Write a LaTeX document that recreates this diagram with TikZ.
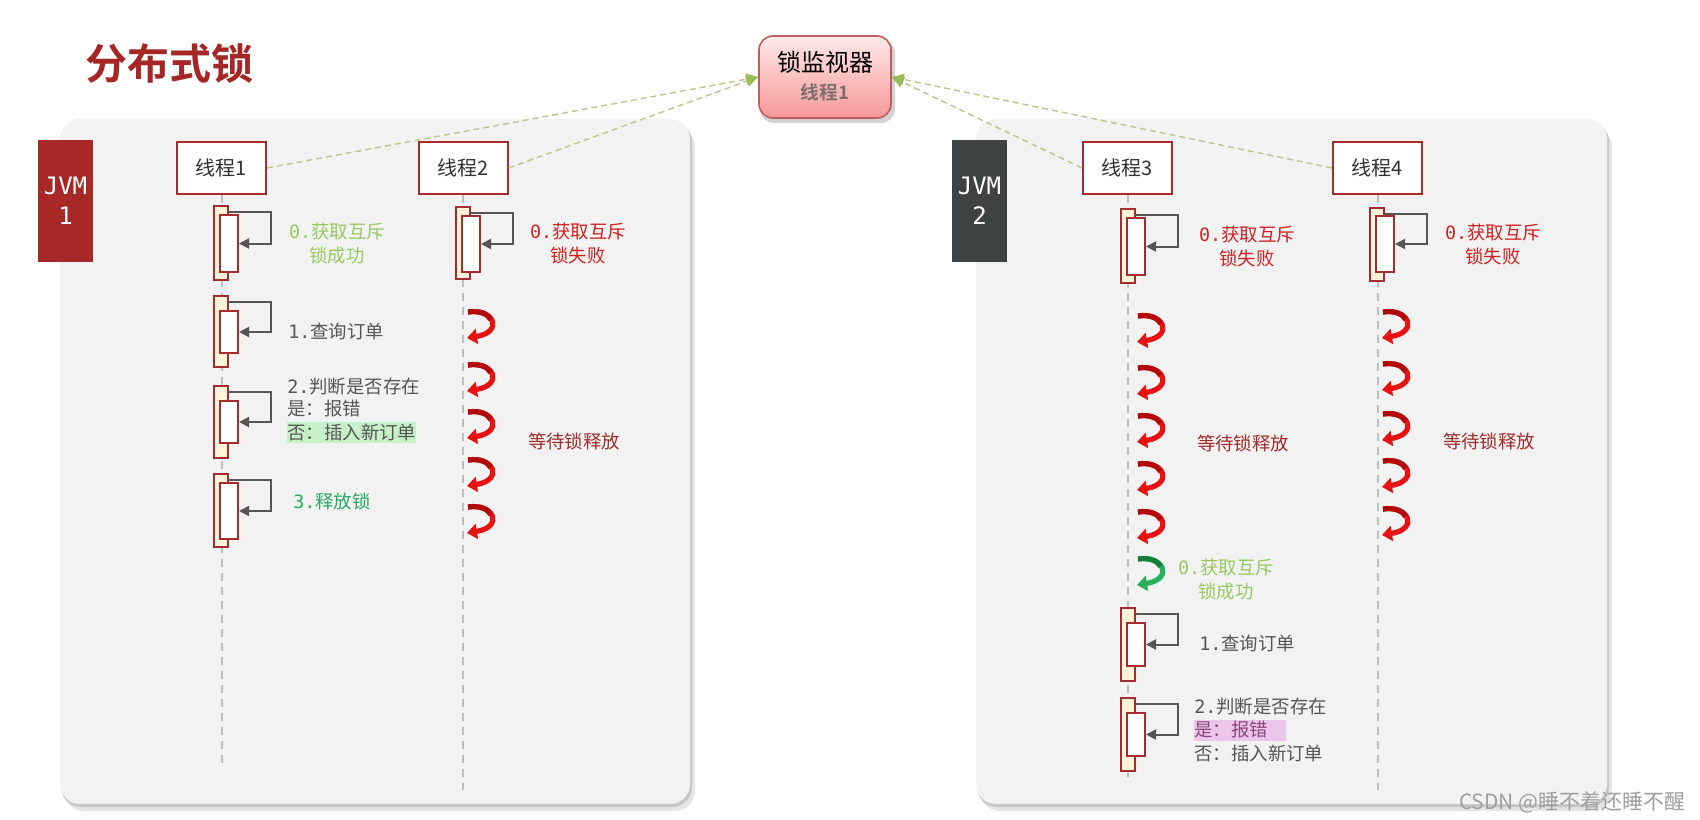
\documentclass[tikz,border=0pt]{standalone}
\usepackage{fontspec}
\setmainfont{Noto Sans CJK SC}[BoldFont={Noto Sans CJK SC Bold}]
\newfontfamily\mono{DejaVu Sans Mono}
\usetikzlibrary{arrows.meta}
\definecolor{titlered}{RGB}{166,38,38}
\definecolor{jvmred}{RGB}{168,40,40}
\definecolor{jvmgray}{RGB}{62,66,66}
\definecolor{panelbg}{RGB}{242,242,242}
\definecolor{boxred}{RGB}{165,45,45}
\definecolor{cream}{RGB}{255,243,217}
\definecolor{monborder}{RGB}{190,95,92}
\definecolor{montop}{RGB}{255,232,232}
\definecolor{monbot}{RGB}{246,152,152}
\definecolor{montext}{RGB}{125,110,110}
\definecolor{conncol}{RGB}{190,196,140}
\definecolor{arrgreen}{RGB}{155,187,89}
\definecolor{lifegray}{RGB}{190,190,190}
\definecolor{arrgray}{RGB}{85,85,85}
\definecolor{textdark}{RGB}{50,50,50}
\definecolor{okgreen}{RGB}{150,202,95}
\definecolor{failred}{RGB}{212,32,32}
\definecolor{waitred}{RGB}{160,45,45}
\definecolor{graytext}{RGB}{85,85,85}
\definecolor{relgreen}{RGB}{40,170,100}
\definecolor{hlgreen}{RGB}{200,240,200}
\definecolor{hlpink}{RGB}{234,198,232}
\definecolor{pinktext}{RGB}{140,70,130}
\definecolor{curlbright}{RGB}{232,18,18}
\definecolor{curldark}{RGB}{178,10,10}
\definecolor{curlgbright}{RGB}{40,175,90}
\definecolor{curlgdark}{RGB}{20,125,60}
\newcommand\actv[6]{%
  \node[outerbox, minimum height={(#4-#3)*0.5pt-1pt}] (#1o) at (#2,{(#3+#4)/2}) {};
  \node[innerbox, minimum height={(#6-#5)*0.5pt-1pt}] (#1i) at ({#2+8},{(#5+#6)/2}) {};
  \draw[selfarr] ([yshift=-3.5pt]#1o.north east) -- ++(42,0) |- (#1i.east);
}
\tikzset{
  thread/.style={draw=boxred, line width=1pt, fill=white, minimum width=44.5pt, minimum height=26pt, inner sep=0pt, text=textdark, font=\fontsize{10}{12}\selectfont},
  outerbox/.style={draw=boxred, line width=1pt, fill=cream, minimum width=7pt, inner sep=0pt},
  innerbox/.style={draw=boxred, line width=1pt, fill=white, minimum width=9pt, inner sep=0pt},
  selfarr/.style={draw=arrgray, line width=1pt, -{Triangle[length=5pt,width=5pt]}},
  lifeline/.style={draw=lifegray, line width=1pt, dash pattern=on 4pt off 3pt},
  conn/.style={draw=conncol, line width=0.7pt, dash pattern=on 3pt off 2pt, -{Triangle[length=6pt,width=5.5pt,color=arrgreen]}},
  lbl/.style={inner sep=0pt, align=center, font=\fontsize{9.2}{12}\selectfont},
  jvm/.style={minimum width=27.5pt, minimum height=61pt, inner sep=0pt, align=center, text=white, font=\fontsize{12}{15}\selectfont\mono},
  curlred/.pic={
    \draw[curlbright, line width=2.6pt, -{Triangle[length=5pt,width=7.5pt]}] (-12,-14) .. controls (14,-18) and (24,6) .. (-13,12);
    \draw[curldark, line width=2.6pt] (-12,-14) .. controls (-0.3,-15.8) and (8.16,-11.93) .. (10.55,-6.58);
  },
  curlgreen/.pic={
    \draw[curlgbright, line width=2.6pt, -{Triangle[length=5pt,width=7.5pt]}] (-12,-14) .. controls (14,-18) and (24,6) .. (-13,12);
    \draw[curlgdark, line width=2.6pt] (-12,-14) .. controls (-0.3,-15.8) and (8.16,-11.93) .. (10.55,-6.58);
  },
}
\begin{document}
\begin{tikzpicture}[x=0.5pt,y=-0.5pt]
\useasboundingbox (0,0) rectangle (1700,819);
\fill[white] (0,0) rectangle (1700,819);

% title
\node[anchor=west, inner sep=0pt, text=titlered, font=\fontsize{21}{24}\selectfont\bfseries] (title) at (85,64) {分布式锁};

% panels with shadows
\fill[gray!20, rounded corners=10pt] (64,127) rectangle (695,811);
\fill[gray!45, rounded corners=10pt] (61,122) rectangle (692,807);
\fill[panelbg, rounded corners=10pt] (60,119) rectangle (690,804);
\fill[gray!20, rounded corners=10pt] (980,127) rectangle (1612,811);
\fill[gray!45, rounded corners=10pt] (977,122) rectangle (1609,807);
\fill[panelbg, rounded corners=10pt] (976,119) rectangle (1607,804);

% JVM tabs
\node[jvm, fill=jvmred] (jvm1) at (65.5,201) {JVM\\1};
\node[jvm, fill=jvmgray] (jvm2) at (979.5,201) {JVM\\2};

% thread boxes
\node[thread] (t1) at (221.5,168) {线程1};
\node[thread] (t2) at (463,168) {线程2};
\node[thread] (t3) at (1127.5,168) {线程3};
\node[thread] (t4) at (1377.5,168) {线程4};

% lifelines
\coordinate (e1) at (221.5,768);
\coordinate (e2) at (463,790);
\coordinate (e3) at (1127.5,778);
\coordinate (e4) at (1377.5,790);
\draw[lifeline] (t1.south) -- (e1);
\draw[lifeline] (t2.south) -- (e2);
\draw[lifeline] (t3.south) -- (e3);
\draw[lifeline] (t4.south) -- (e4);

% activations
\actv{aa}{221}{205}{281}{214}{273}
\actv{ab}{221}{295}{368}{310}{354}
\actv{ac}{221}{385}{459}{400}{444}
\actv{ad}{221}{473}{548}{482}{540}
\actv{ba}{463}{206}{280}{215}{273}
\actv{ca}{1128}{208}{284}{217}{276}
\actv{cb}{1128}{607}{682}{622}{667}
\actv{cc}{1128}{697}{772}{712}{757}
\actv{da}{1377}{207}{282}{215}{273}

% waiting curls
\foreach \yy in {326,379,426,474,521} {\pic at (480,\yy) {curlred};}
\foreach \yy in {330,382,430,478,526} {\pic at (1150,\yy) {curlred};}
\pic at (1150,573) {curlgreen};
\foreach \yy in {326,378,428,475,523} {\pic at (1395,\yy) {curlred};}

% thread 1 labels
\node[lbl, text=okgreen] (s1) at (337,244) {{\mono 0.}获取互斥\\锁成功};
\node[lbl, text=graytext, anchor=west] (q1) at (288,331) {{\mono 1.}查询订单};
\node[lbl, text=graytext, anchor=west] (j1a) at (287,387) {{\mono 2.}判断是否存在};
\node[lbl, text=graytext, anchor=west] (j1b) at (287,409) {是：报错};
\node[lbl, text=graytext, anchor=west, fill=hlgreen, minimum height=10.5pt] (j1c) at (287,432) {否：插入新订单};
\node[lbl, text=relgreen] (r1) at (332,501) {{\mono 3.}释放锁};

% thread 2 labels
\node[lbl, text=failred] (f2) at (578,244) {{\mono 0.}获取互斥\\锁失败};
\node[lbl, text=waitred] (w2) at (574,441) {等待锁释放};

% thread 3 labels
\node[lbl, text=failred] (f3) at (1247,247) {{\mono 0.}获取互斥\\锁失败};
\node[lbl, text=waitred] (w3) at (1243,443) {等待锁释放};
\node[lbl, text=okgreen] (s3) at (1226,580) {{\mono 0.}获取互斥\\锁成功};
\node[lbl, text=graytext, anchor=west] (q3) at (1199,643) {{\mono 1.}查询订单};
\node[lbl, text=graytext, anchor=west] (j3a) at (1194,707) {{\mono 2.}判断是否存在};
\node[lbl, text=pinktext, anchor=west, fill=hlpink, minimum height=10.5pt] (j3b) at (1194,730) {是：报错\hspace{9pt}};
\node[lbl, text=graytext, anchor=west] (j3c) at (1194,753) {否：插入新订单};

% thread 4 labels
\node[lbl, text=failred] (f4) at (1493,245) {{\mono 0.}获取互斥\\锁失败};
\node[lbl, text=waitred] (w4) at (1489,441) {等待锁释放};

% lock monitor
\fill[gray!35, rounded corners=7pt] (760,39) rectangle (895,123);
\node[draw=monborder, line width=0.8pt, rounded corners=7pt, top color=montop, bottom color=monbot, minimum width=66pt, minimum height=41pt, inner sep=0pt] (mon) at (825,77) {};
\node[inner sep=0pt, text=black, font=\fontsize{12}{14}\selectfont] (monA) at (825,62) {锁监视器};
\node[inner sep=0pt, text=montext, font=\fontsize{9.3}{11}\selectfont\bfseries] (monB) at (825,92) {线程1};

% connectors to monitor
\draw[conn] (t1.east) -- (mon.west);
\draw[conn] (t2.east) -- (mon.west);
\draw[conn] (t3.west) -- (mon.east);
\draw[conn] (t4.west) -- (mon.east);

% watermark
\node[anchor=east, inner sep=0pt, text=gray!75, font=\fontsize{10.5}{12}\selectfont] (wm) at (1686,802) {CSDN @睡不着还睡不醒};
\end{tikzpicture}
\end{document}
